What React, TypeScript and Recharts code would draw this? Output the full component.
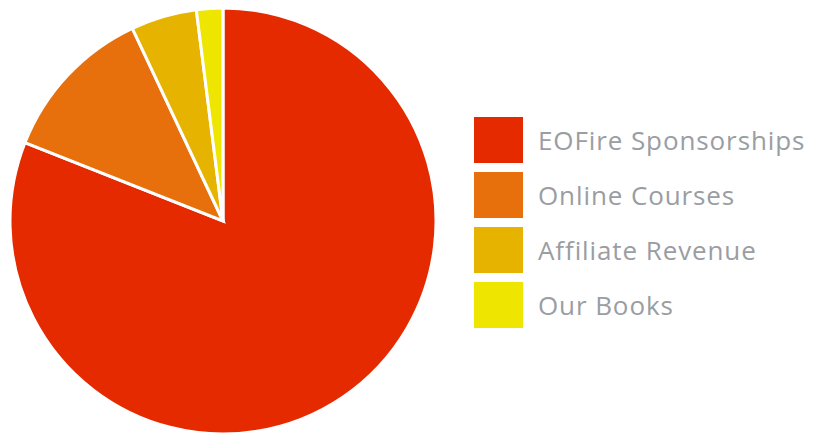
import React from "react";
import { PieChart, Pie, Cell, Legend } from "recharts";

const sources = ["EOFire Sponsorships", "Online Courses", "Affiliate Revenue", "Our Books"];
const shares = [81, 12, 5, 2];
const colors = ["#e62a00", "#e8700c", "#e6b400", "#eee600"];

const data = sources.map((name, i) => ({ name, value: shares[i] }));

// legend drawn in data order (recharts would sort it by name)
function RevenueLegend() {
  return (
    <div>
      {sources.map((name, i) => (
        <div key={name} style={{ display: "flex", alignItems: "center", height: 55 }}>
          <div style={{ width: 49, height: 46, background: colors[i], marginRight: 15 }} />
          <span
            style={{
              fontFamily: "'Open Sans', sans-serif",
              fontSize: 26,
              letterSpacing: 0.9,
              color: "#9a9da2",
            }}
          >
            {name}
          </span>
        </div>
      ))}
    </div>
  );
}

export default function App() {
  return (
    <div style={{ position: "absolute", left: 0, top: 0, background: "#fff" }}>
      <PieChart width={820} height={434} margin={{ top: 0, right: 0, bottom: 0, left: 0 }}>
        <Pie
          data={data}
          dataKey="value"
          nameKey="name"
          cx={223}
          cy={221}
          outerRadius={213}
          startAngle={90}
          endAngle={-270}
          stroke="#fff"
          strokeWidth={3}
          isAnimationActive={false}
        >
          {data.map((d, i) => (
            <Cell key={d.name} fill={colors[i]} />
          ))}
        </Pie>
        <Legend
          layout="vertical"
          content={<RevenueLegend />}
          wrapperStyle={{ left: 474, top: 112, width: 346 }}
        />
      </PieChart>
    </div>
  );
}
